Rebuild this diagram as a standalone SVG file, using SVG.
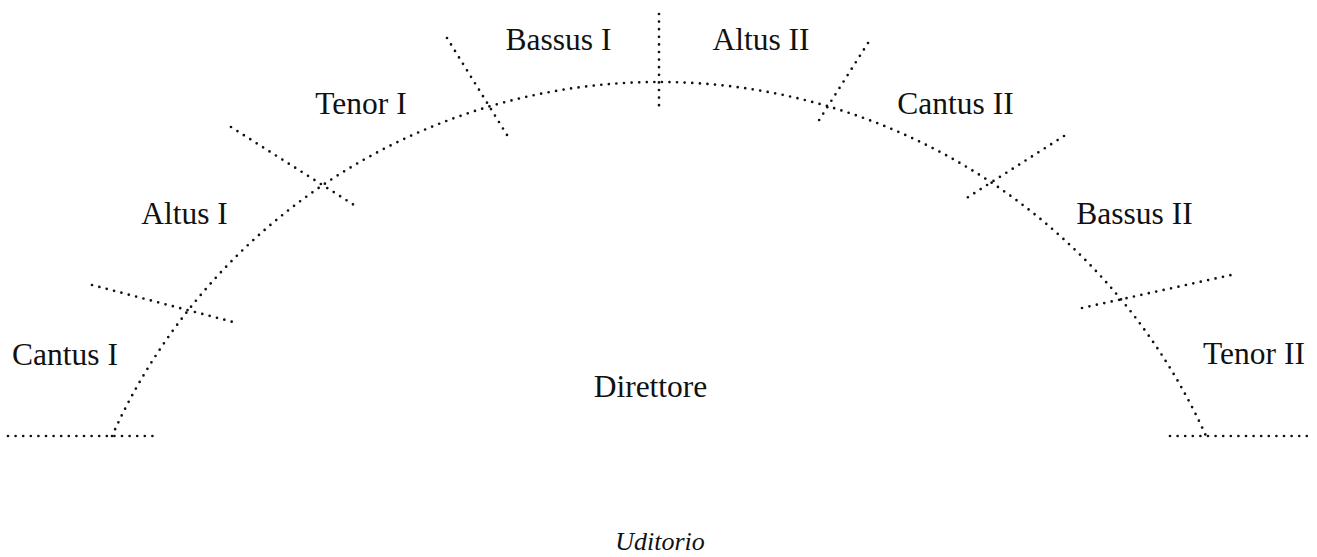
<svg xmlns="http://www.w3.org/2000/svg" width="1317" height="557" viewBox="0 0 1317 557">
<style>
.dot{fill:none;stroke:#111;stroke-width:2.7;stroke-linecap:round;stroke-dasharray:0 7.6}
.lbl{font-family:"Liberation Serif","Times New Roman",serif;font-size:31.5px;fill:#111;text-anchor:middle}
.it{font-style:italic;font-size:26px}
</style>
<rect width="1317" height="557" fill="#fff"/>
<g id="connectors">
<path class="dot" d="M112,436 A599.6,599.6 0 0 1 1206,436"/>
<line class="dot" x1="8" y1="436" x2="153" y2="436"/>
<line class="dot" x1="1170" y1="436" x2="1308" y2="436"/>
<line class="dot" x1="92" y1="285" x2="233" y2="322"/>
<line class="dot" x1="231" y1="127" x2="354" y2="205"/>
<line class="dot" x1="447" y1="38" x2="507" y2="135"/>
<line class="dot" x1="659" y1="14" x2="659" y2="111"/>
<line class="dot" x1="868" y1="43" x2="816" y2="125"/>
<line class="dot" x1="1064" y1="136" x2="962" y2="201"/>
<line class="dot" x1="1082" y1="308" x2="1231" y2="275"/>
</g>
<g id="cantus1"><text class="lbl" x="65" y="365">Cantus I</text></g>
<g id="altus1"><text class="lbl" x="184.5" y="224">Altus I</text></g>
<g id="tenor1"><text class="lbl" x="361" y="114">Tenor I</text></g>
<g id="bassus1"><text class="lbl" x="558.5" y="50">Bassus I</text></g>
<g id="altus2"><text class="lbl" x="761" y="50">Altus II</text></g>
<g id="cantus2"><text class="lbl" x="955.5" y="114">Cantus II</text></g>
<g id="bassus2"><text class="lbl" x="1134.5" y="224">Bassus II</text></g>
<g id="tenor2"><text class="lbl" x="1254" y="364">Tenor II</text></g>
<g id="direttore"><text class="lbl" x="650.5" y="397">Direttore</text></g>
<g id="uditorio"><text class="lbl it" x="660" y="550">Uditorio</text></g>
</svg>
